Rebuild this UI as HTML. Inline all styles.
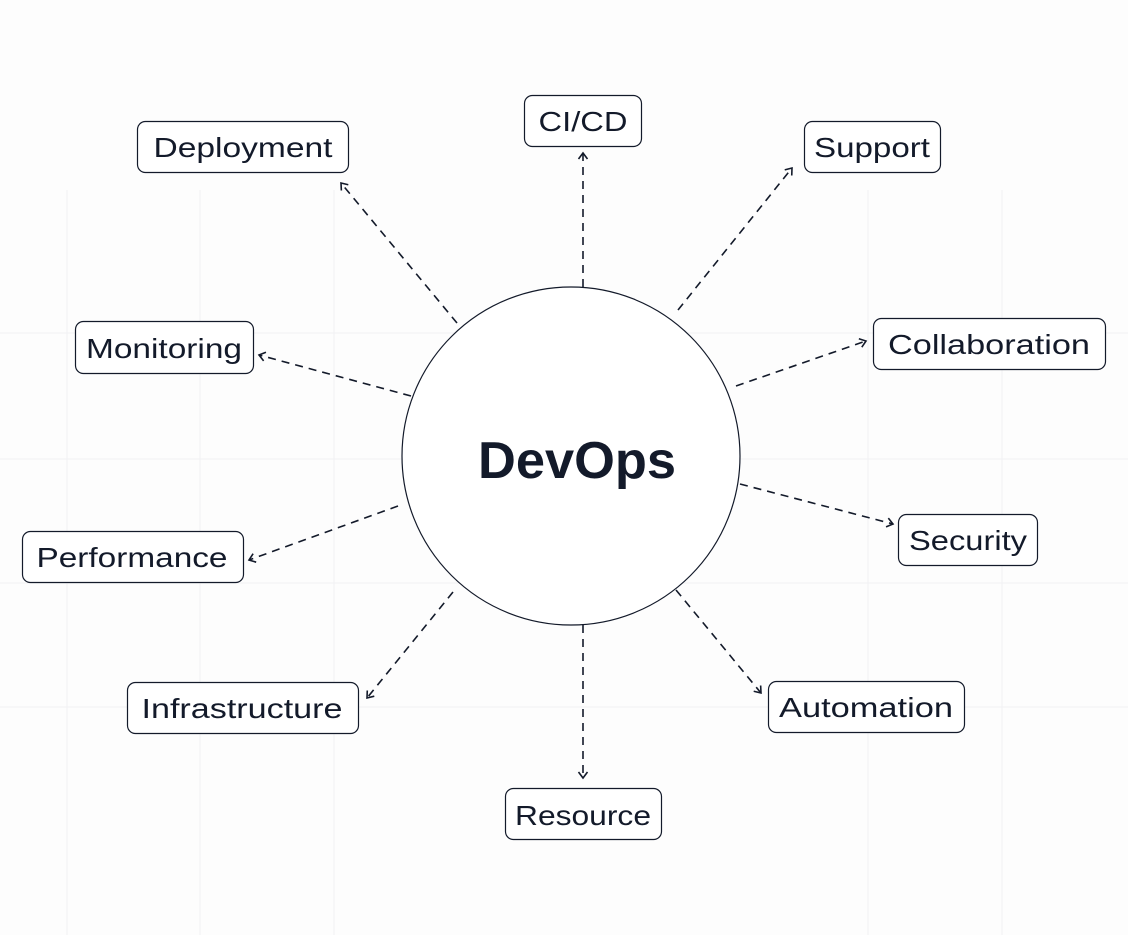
<!DOCTYPE html>
<html><head><meta charset="utf-8"><style>
html,body{margin:0;padding:0;background:#fdfdfd;}
svg{display:block;}
text{font-family:"Liberation Sans",sans-serif;fill:#131a2a;}
</style></head><body>
<svg width="1128" height="935" viewBox="0 0 1128 935" xmlns="http://www.w3.org/2000/svg">
<defs>
<marker id="a" markerWidth="12" markerHeight="12" refX="10" refY="6" orient="auto" markerUnits="userSpaceOnUse">
<polyline points="4,1.5 10,6 4,10.5" fill="none" stroke="#131a2a" stroke-width="1.6"/>
</marker>
</defs>
<g stroke="#f1f1f3" stroke-width="1">
<line x1="67" y1="190" x2="67" y2="935"/><line x1="200" y1="190" x2="200" y2="935"/><line x1="334" y1="190" x2="334" y2="935"/><line x1="868" y1="190" x2="868" y2="935"/><line x1="1002" y1="190" x2="1002" y2="935"/>
<line x1="0" y1="333" x2="1128" y2="333"/><line x1="0" y1="459" x2="1128" y2="459"/><line x1="0" y1="583" x2="1128" y2="583"/><line x1="0" y1="707" x2="1128" y2="707"/>
</g>
<circle cx="571" cy="456" r="169" fill="#fff" stroke="#131a2a" stroke-width="1.2"/>
<text x="577" y="478" text-anchor="middle" font-size="52" font-weight="bold" textLength="198" lengthAdjust="spacingAndGlyphs">DevOps</text>
<g stroke="#131a2a" stroke-width="1.6" stroke-dasharray="8,6" fill="none" marker-end="url(#a)">
<line x1="457" y1="323" x2="341" y2="183"/>
<line x1="583" y1="287" x2="583" y2="153"/>
<line x1="678" y1="310" x2="792" y2="168"/>
<line x1="411" y1="396" x2="259" y2="355"/>
<line x1="736" y1="386" x2="866" y2="341"/>
<line x1="398" y1="506" x2="249" y2="560"/>
<line x1="740" y1="484" x2="893" y2="524"/>
<line x1="453" y1="592" x2="367" y2="698"/>
<line x1="676" y1="590" x2="761" y2="693"/>
<line x1="583" y1="625" x2="583" y2="778"/>
</g>
<g fill="#fff" stroke="#131a2a" stroke-width="1.2">
<rect x="137.5" y="121.5" width="211" height="51" rx="8"/>
<rect x="524.5" y="95.5" width="117" height="51" rx="8"/>
<rect x="804.5" y="121.5" width="136" height="51" rx="8"/>
<rect x="75.5" y="321.5" width="178" height="52" rx="8"/>
<rect x="873.5" y="318.5" width="232" height="51" rx="8"/>
<rect x="22.5" y="531.5" width="221" height="51" rx="8"/>
<rect x="898.5" y="514.5" width="139" height="51" rx="8"/>
<rect x="127.5" y="682.5" width="231" height="51" rx="8"/>
<rect x="768.5" y="681.5" width="196" height="51" rx="8"/>
<rect x="505.5" y="788.5" width="156" height="51" rx="8"/>
</g>
<g font-size="28" text-anchor="middle">
<text x="243" y="157" textLength="179" lengthAdjust="spacingAndGlyphs">Deployment</text>
<text x="583" y="131" textLength="89" lengthAdjust="spacingAndGlyphs">CI/CD</text>
<text x="872" y="157" textLength="116" lengthAdjust="spacingAndGlyphs">Support</text>
<text x="164" y="358" textLength="156" lengthAdjust="spacingAndGlyphs">Monitoring</text>
<text x="989" y="354" textLength="202" lengthAdjust="spacingAndGlyphs">Collaboration</text>
<text x="132" y="567" textLength="191" lengthAdjust="spacingAndGlyphs">Performance</text>
<text x="968" y="550" textLength="118" lengthAdjust="spacingAndGlyphs">Security</text>
<text x="242" y="718" textLength="201" lengthAdjust="spacingAndGlyphs">Infrastructure</text>
<text x="866" y="717" textLength="174" lengthAdjust="spacingAndGlyphs">Automation</text>
<text x="583" y="825" textLength="136" lengthAdjust="spacingAndGlyphs">Resource</text>
</g>
</svg>
</body></html>
